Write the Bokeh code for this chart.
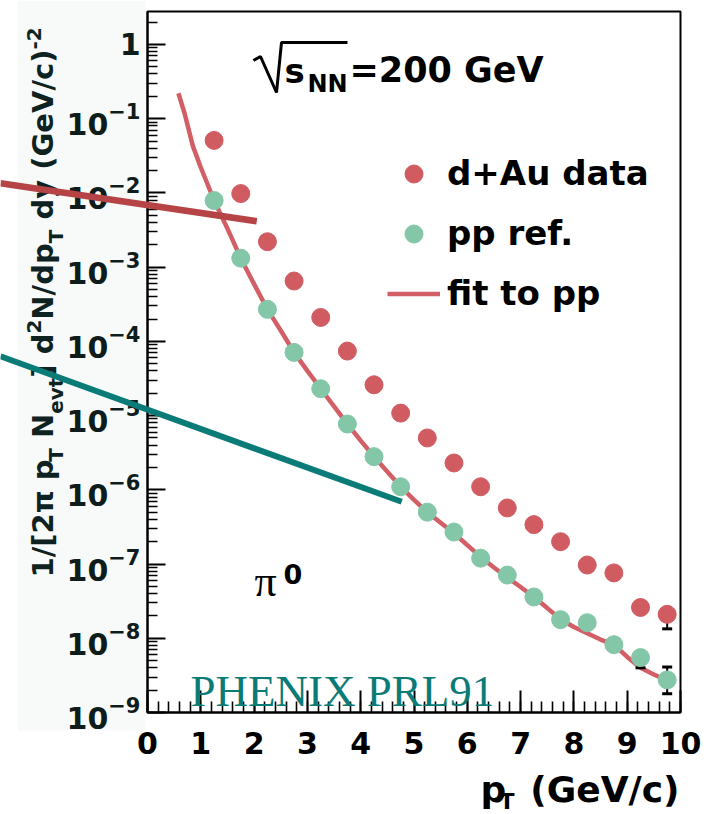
import math
from bokeh.plotting import figure
from bokeh.models import (Range1d, FixedTicker, SingleIntervalTicker, LogTickFormatter,
                          Label, Legend, LegendItem, Arrow, LinearAxis, LogAxis)
from bokeh.embed import file_html
from bokeh.resources import INLINE

# ---------------- data ----------------
pt = [1.25, 1.75, 2.25, 2.75, 3.25, 3.75, 4.25, 4.75, 5.25,
      5.75, 6.25, 6.75, 7.25, 7.75, 8.25, 8.75, 9.25, 9.75]
dau = [5.1e-2, 9.8e-3, 2.2e-3, 6.5e-4, 2.1e-4, 7.4e-5, 2.6e-5, 1.08e-5, 5.0e-6,
       2.3e-6, 1.1e-6, 5.7e-7, 3.4e-7, 2.0e-7, 9.7e-8, 7.6e-8, 2.6e-8, 2.1e-8]
pp = [7.9e-3, 1.32e-3, 2.7e-4, 7.1e-5, 2.3e-5, 7.7e-6, 2.8e-6, 1.1e-6, 5.0e-7,
      2.7e-7, 1.2e-7, 7.1e-8, 3.6e-8, 1.78e-8, 1.62e-8, 8.2e-9, 5.5e-9, 2.75e-9]

fit_pt = [0.58, 0.7, 0.85, 1.0, 1.25, 1.5, 1.75, 2.0, 2.25, 2.5, 2.75, 3.0, 3.25,
          3.5, 3.75, 4.0, 4.25, 4.5, 4.75, 5.0, 5.25, 5.5, 5.75, 6.0, 6.25, 6.5,
          6.75, 7.0, 7.25, 7.5, 7.75, 8.0, 8.25, 8.5, 8.75, 9.0, 9.25, 9.5, 9.75]
fit_val = [0.22, 0.115, 0.043, 0.022, 7.9e-3, 3.3e-3, 1.32e-3, 5.9e-4, 2.7e-4,
           1.4e-4, 7.1e-5, 4.0e-5, 2.3e-5, 1.33e-5, 7.7e-6, 4.6e-6, 2.8e-6,
           1.75e-6, 1.1e-6, 7.3e-7, 5.0e-7, 3.6e-7, 2.6e-7, 1.8e-7, 1.25e-7,
           9.0e-8, 6.6e-8, 4.9e-8, 3.6e-8, 2.55e-8, 1.8e-8, 1.42e-8, 1.17e-8,
           9.6e-9, 8.2e-9, 5.6e-9, 4.0e-9, 3.25e-9, 2.7e-9]

# error bars that stick out of the markers
dau_err_pt = [9.75]
dau_err_lo = [1.34e-8]
dau_err_hi = [2.5e-8]
pp_err_pt = [9.25, 9.75]
pp_err_lo = [4.0e-9, 1.79e-9]
pp_err_hi = [6.5e-9, 4.1e-9]

# overlay strokes drawn across the figure (in data units)
red_mark_x = [-2.76, 2.05]
red_mark_y = [1.35e-2, 4.15e-3]
teal_mark_x = [-2.76, 4.77]
teal_mark_y = [6.3e-5, 6.9e-7]

x_tick_labels = [str(i) for i in range(0, 11)]

# ---------------- geometry / styles ----------------
W, H = 713, 814
FL, FR, FT, FB = 147, 680, 11, 712          # where the axes box sits on the page
X0, X1 = 0.0, 10.0
Y0, Y1 = 1e-9, 2.78
LY0, LY1 = math.log10(Y0), math.log10(Y1)

RED = "#d05c62"
GREEN = "#84c6a8"
FITRED = "#d35f66"
DARKRED = "#b64447"
TEAL = "#0b7b78"
SANS = "DejaVu Sans"
SERIF = "Liberation Serif"
BASE_SHIFT = 0.35   # em correction so that the given point is the text baseline


def px2x(X):
    return X0 + (X - FL) / (FR - FL) * (X1 - X0)


def px2y(Y):
    return 10 ** (LY0 + (FB - Y) / (FB - FT) * (LY1 - LY0))


# the frame covers the whole page; the axes are placed at the box edges
p = figure(width=W, height=H,
           x_range=Range1d(px2x(0), px2x(W)), y_range=Range1d(px2y(H), px2y(0)),
           y_axis_type="log", x_axis_location=None, y_axis_location=None,
           output_backend="svg", toolbar_location=None, title=None,
           min_border_left=0, min_border_right=0, min_border_top=0, min_border_bottom=0)
p.outline_line_color = None
p.background_fill_color = "white"
p.border_fill_color = "white"
p.grid.visible = False
for g in list(p.renderers):
    pass

# pale scan background behind the left labels
p.quad(left=[px2x(17)], right=[px2x(145)], top=[px2y(0)], bottom=[px2y(730)],
       fill_color="#f7faf9", line_color=None)

# box around the plot area
p.quad(left=[X0], right=[X1], bottom=[Y0], top=[Y1], fill_color=None,
       line_color="black", line_width=2)

# x axis
xa = LinearAxis(fixed_location=Y0, bounds=(X0, X1))
xa.ticker = SingleIntervalTicker(interval=1, num_minor_ticks=5)
xa.major_label_overrides = {i: s for i, s in enumerate(x_tick_labels)}
xa.axis_line_width = 2
xa.major_tick_in = 22
xa.major_tick_out = 0
xa.minor_tick_in = 11
xa.minor_tick_out = 0
xa.major_tick_line_width = 2
xa.minor_tick_line_width = 1.6
xa.major_label_standoff = 19
xa.major_label_text_font = SANS
xa.major_label_text_font_style = "bold"
xa.major_label_text_font_size = "30px"
xa.major_label_text_color = "black"
p.add_layout(xa, "below")

# y axis
majors = [10.0 ** k for k in range(-9, 1)]
minors = [m * 10.0 ** k for k in range(-9, 1) for m in range(2, 10) if m * 10.0 ** k <= Y1]
ya = LogAxis(fixed_location=X0, bounds=(Y0, Y1))
ya.ticker = FixedTicker(ticks=majors, minor_ticks=minors)
ya.formatter = LogTickFormatter(min_exponent=1)
ya.axis_line_width = 2
ya.major_tick_in = 18
ya.major_tick_out = 0
ya.minor_tick_in = 10
ya.minor_tick_out = 0
ya.major_tick_line_width = 2
ya.minor_tick_line_width = 1.6
ya.major_label_standoff = 7
ya.major_label_text_font = SANS
ya.major_label_text_font_style = "bold"
ya.major_label_text_font_size = "30px"
ya.major_label_text_color = "#0e1c1c"
p.add_layout(ya, "left")

# fit line and data
r_fit = p.line(fit_pt, fit_val, line_color=FITRED, line_width=4.5)
p.segment(x0=dau_err_pt, y0=dau_err_lo, x1=dau_err_pt, y1=dau_err_hi,
          line_color="black", line_width=2)
p.scatter(dau_err_pt + dau_err_pt, dau_err_lo + dau_err_hi, marker="dash", size=10,
          line_color="black", line_width=3)
p.segment(x0=pp_err_pt, y0=pp_err_lo, x1=pp_err_pt, y1=pp_err_hi,
          line_color="black", line_width=2)
p.scatter(pp_err_pt + pp_err_pt, pp_err_lo + pp_err_hi, marker="dash", size=10,
          line_color="black", line_width=3)
r_dau = p.scatter(pt, dau, marker="circle", size=18, fill_color=RED, line_color=RED)
r_pp = p.scatter(pt, pp, marker="circle", size=18, fill_color=GREEN, line_color=GREEN)

legend = Legend(items=[LegendItem(label="d+Au data", renderers=[r_dau]),
                       LegendItem(label="pp ref.", renderers=[r_pp]),
                       LegendItem(label="fit to pp", renderers=[r_fit])],
                location=(387, H - 315.5), orientation="vertical",
                padding=0, margin=0, spacing=15, glyph_width=53, glyph_height=45,
                label_height=45, label_standoff=7,
                label_text_font=SANS, label_text_font_style="bold",
                label_text_font_size="34px", label_text_color="black",
                border_line_color=None, background_fill_alpha=0)
p.add_layout(legend)


def label(text, X, Y, size, font=SANS, style="bold", color="black", angle=0.0,
          align="left"):
    if angle == 0.0:
        Y = Y - BASE_SHIFT * size
    else:
        X = X - BASE_SHIFT * size
    p.add_layout(Label(x=X, y=H - Y, x_units="screen", y_units="screen",
                       text=text, text_font=font, text_font_style=style,
                       text_font_size=f"{size}px", text_color=color, angle=angle,
                       text_align=align, text_baseline="alphabetic"))


# sqrt(s_NN) = 200 GeV
rad_px = [(253, 60), (260, 56), (276, 92), (281, 42), (347, 42)]
p.line([px2x(a) for a, b in rad_px], [px2y(b) for a, b in rad_px],
       line_color="black", line_width=3)
label("s", 284, 82, 34)
label("NN", 307, 92, 24)
label("=200 GeV", 349, 82, 35)

# pi0
label("π", 254, 596, 44, font=SERIF, style="normal")
label("0", 283, 583, 27)

# PHENIX text
label("PHENIX PRL91", 190, 706, 45, font=SERIF, style="normal", color=TEAL)

# x axis title
label("p", 480, 802, 36)
label("T", 499, 809, 22)
label("(GeV/c)", 679, 802, 36, align="right")

# y axis title (rotated, built from runs)
ADV = {'1': 696, '/': 365, '[': 457, '2': 696, 'π': 710, ' ': 348, 'p': 716, 'T': 682,
       'N': 837, 'e': 678, 'v': 652, 't': 478, ']': 457, 'd': 716, 'y': 652, '(': 457,
       'G': 821, 'V': 774, 'c': 593, ')': 457, '-': 415}
runs = [("1/[2π p", "n"), ("T", "sub"), (" N", "n"), ("evt", "sub"), ("] d", "n"),
        ("2", "sup"), ("N/dp", "n"), ("T", "sub"), (" dy (GeV/c)", "n"), ("-2", "sup")]
E_MAIN, E_SMALL = 29, 20
BASE_X = {"n": 53, "sub": 62, "sup": 40}
pos = 577.0
YLC = "#0f2222"
for txt, kind in runs:
    size = E_MAIN if kind == "n" else E_SMALL
    lead = len(txt) - len(txt.lstrip(" "))
    pos -= lead * ADV[' '] * size / 1000.0
    core = txt.strip(" ")
    label(core, BASE_X[kind], pos, size, color=YLC, angle=math.pi / 2)
    pos -= sum(ADV.get(ch, 600) for ch in core) * size / 1000.0

# overlay strokes across the figure
p.add_layout(Arrow(end=None, x_start=red_mark_x[0], y_start=red_mark_y[0],
                   x_end=red_mark_x[1], y_end=red_mark_y[1],
                   line_color=DARKRED, line_width=6.5))
p.add_layout(Arrow(end=None, x_start=teal_mark_x[0], y_start=teal_mark_y[0],
                   x_end=teal_mark_x[1], y_end=teal_mark_y[1],
                   line_color=TEAL, line_width=6))

open("out.html", "w").write(file_html(p, INLINE))
